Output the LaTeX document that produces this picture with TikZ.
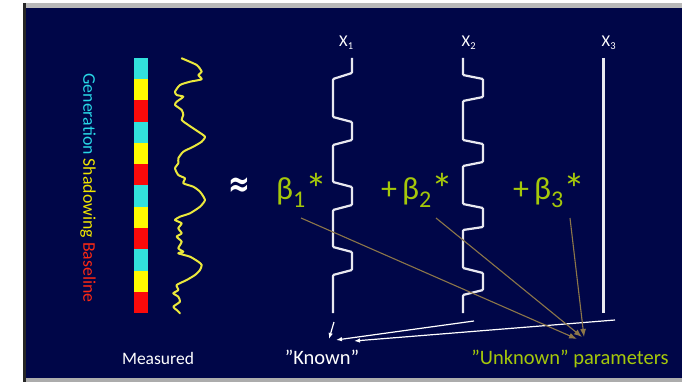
\documentclass[tikz,border=0pt]{standalone}
\usepackage{fontspec}
\setmainfont{Carlito}
\newfontfamily\symfont{DejaVu Sans}
\usetikzlibrary{arrows.meta}
\definecolor{navy}{RGB}{0,6,72}
\definecolor{cbcyan}{RGB}{50,225,220}
\definecolor{cbyellow}{RGB}{255,250,0}
\definecolor{cbred}{RGB}{250,10,10}
\definecolor{txcyan}{RGB}{40,215,230}
\definecolor{txyellow}{RGB}{240,230,0}
\definecolor{txred}{RGB}{250,40,20}
\definecolor{wave}{RGB}{235,232,60}
\definecolor{wline}{RGB}{232,232,240}
\definecolor{lime}{RGB}{165,200,10}
\definecolor{brownarrow}{RGB}{140,118,72}
\newcommand\bterm[1]{β\raisebox{-8pt}{\fontsize{24}{24}\selectfont #1}\raisebox{-5pt}{\fontsize{44}{44}\selectfont *}}
\tikzset{
  sqwave/.style={draw=wline, line width=2.2pt, rounded corners=1pt},
  lbl/.style={text=white, font=\fontsize{17.5}{18}\selectfont, inner sep=0pt},
  xlbl/.style={text=white, font=\fontsize{16.5}{16}\selectfont, anchor=base west, inner sep=0pt},
  beta/.style={text=lime, font=\fontsize{32}{32}\selectfont, anchor=base west, inner sep=0pt},
  brarrow/.style={draw=brownarrow, line width=1.1pt, -{Latex[length=8pt,width=6pt]}},
  wharrow/.style={draw=white, line width=1.2pt, -{Latex[length=6pt,width=4.5pt]}}
}
\begin{document}
\begin{tikzpicture}[x=1pt,y=-1pt]
\useasboundingbox (0,0) rectangle (682,382);
\fill[white] (0,0) rectangle (682,382);
\fill[gray!55] (25,3) rectangle (682,8);
\fill[gray!65] (25,378) rectangle (682,382);
\fill[black!85] (23,3) rectangle (25.5,382);
\fill[navy] (25.5,8) rectangle (682,378);

% colour bar
\foreach \k in {0,1,2,3}{
  \fill[cbcyan]   (134,{58+(3*\k)*21.25}) rectangle (148,{58+(3*\k+1)*21.25});
  \fill[cbyellow] (134,{58+(3*\k+1)*21.25}) rectangle (148,{58+(3*\k+2)*21.25});
  \fill[cbred]    (134,{58+(3*\k+2)*21.25}) rectangle (148,{58+(3*\k+3)*21.25});
}

% rotated legend
\node[rotate=-90, inner sep=0pt, font=\fontsize{17.8}{18}\selectfont] (legend) at (88,188)
  {\textcolor{txcyan}{Generation} \textcolor{txyellow}{Shadowing} \textcolor{txred}{Baseline}};

% measured signal
\draw[wave, line width=2pt, line join=round, line cap=round] plot[smooth, tension=0.35] coordinates {
(181.7,58.3) (196.7,65) (201.7,71.7) (198.3,75) (201.7,79.3) (190,81.7) (180,85) (175,91.7)
(176.7,95) (183.3,96.7) (176.7,101.7) (175,105) (181.7,110) (183.3,115) (181.7,120) (188.3,125)
(198.3,131.7) (205,136.7) (201.7,141.7) (193.3,146.7) (183.3,151.7) (178.3,158.3) (178.3,163.3)
(175,168.3) (178.3,175) (185,178.3) (183.3,183.3) (193.3,186.7) (200,191.7) (205,200) (200,206.7)
(190,213.3) (180,216.7) (175,220) (181.7,223.3) (178.3,228.3) (181.7,233.3) (176.7,236.7)
(181.7,241.7) (178.3,248.3) (183.3,251.7) (178.3,253.3) (190,256.7) (198.3,261.7) (201.7,265)
(200,270) (195,275) (186.7,280) (176.7,285) (178.3,290) (173.3,293.3) (178.3,296.7) (180,301.7)
(173.3,306.7) (176.7,310) (180,313.3)};

% approx sign
\node[text=white, inner sep=0pt, font=\symfont\bfseries\fontsize{26}{26}\selectfont] (approx) at (239,187) {\scalebox{1}[1.4]{≈}};

% X1 square wave
\draw[sqwave] (352,58) -- (352,73) -- (333,79) -- (333,117) -- (352,122) -- (352,140) -- (333,145)
  -- (333,182) -- (352,187) -- (352,205) -- (333,210) -- (333,247) -- (352,252) -- (352,270)
  -- (333,275) -- (333,313);
% X2 square wave
\draw[sqwave] (463,58) -- (463,75) -- (483,79) -- (483,97) -- (463,101) -- (463,140) -- (483,144)
  -- (483,162) -- (463,166) -- (463,204) -- (483,208) -- (483,227) -- (463,230) -- (463,268)
  -- (483,273) -- (483,290) -- (463,295) -- (463,313);
% X3 flat line
\draw[sqwave] (603.5,58) -- (603.5,313);

% X labels
\node[xlbl] (x1) at (339,47) {X\raisebox{-3pt}{\fontsize{10.5}{10}\selectfont 1}};
\node[xlbl] (x2) at (461.5,47) {X\raisebox{-3pt}{\fontsize{10.5}{10}\selectfont 2}};
\node[xlbl] (x3) at (601.5,47) {X\raisebox{-3pt}{\fontsize{10.5}{10}\selectfont 3}};

% beta terms
\node[beta] (b1) at (276,200) {\bterm{1}};
\node[beta] (b2) at (381,200) {+\hspace{5pt}\bterm{2}};
\node[beta] (b3) at (513,200) {+\hspace{5pt}\bterm{3}};

% bottom labels
\node[lbl, anchor=base] (meas) at (158,364) {Measured};
\node[lbl, anchor=base, font=\fontsize{20.5}{20}\selectfont] (known) at (322,364) {”Known”};
\node[lbl, anchor=base, text=lime, font=\fontsize{20.5}{20}\selectfont] (unknown) at (570,364) {”Unknown” parameters};

% arrow coordinates
\coordinate (b1s) at (301,218);
\coordinate (b2s) at (436,218);
\coordinate (b3s) at (570,218);
\coordinate (ue1) at (577,339);
\coordinate (ue2) at (582,337);
\coordinate (ue3) at (584,337);
\coordinate (x1s) at (334,322);
\coordinate (x2s) at (474,321);
\coordinate (x3s) at (615,320);
\coordinate (ke0) at (329,339);
\coordinate (ke1) at (336,340);
\coordinate (ke2) at (354,341);

% white arrows
\draw[wharrow] (x1s) -- (ke0);
\draw[wharrow] (x2s) -- (ke1);
\draw[wharrow] (x3s) -- (ke2);

% brown arrows
\draw[brarrow] (b1s) -- (ue1);
\draw[brarrow] (b2s) -- (ue2);
\draw[brarrow] (b3s) -- (ue3);
\end{tikzpicture}
\end{document}
